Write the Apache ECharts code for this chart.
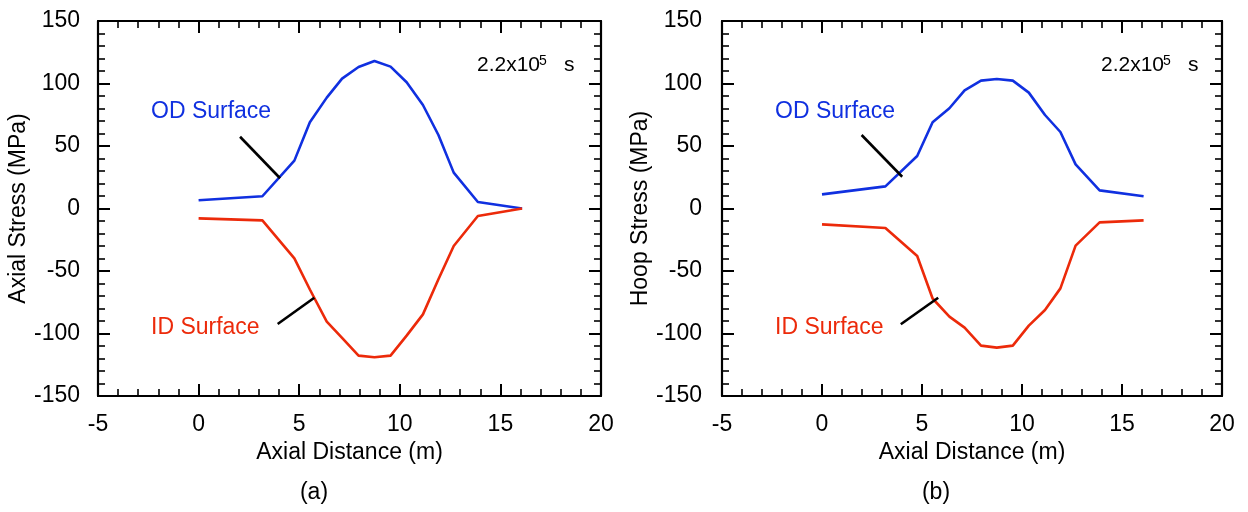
<!DOCTYPE html>
<html>
<head>
<meta charset="utf-8">
<script src="https://cdn.jsdelivr.net/npm/echarts@6/dist/echarts.min.js"></script>
<style>
html,body{margin:0;padding:0;background:#fff;}
#c{width:1248px;height:512px;}
</style>
</head>
<body>
<div id="c"></div>
<script>
// ---- data ----
const axialDistance = [0, 3.17, 4.76, 5.53, 6.37, 7.13, 7.95, 8.74, 9.54, 10.34, 11.15, 11.92, 12.68, 13.88, 16.08];
const axialOD = [6.6, 9.8, 38.3, 69, 88.7, 103.9, 113.2, 118, 113.5, 101, 82.8, 58.8, 28.7, 5.2, 0];
const axialID = [-7.9, -9.5, -39.9, -64.8, -90.5, -103.5, -117.7, -119, -117.7, -101.7, -84.7, -56.6, -30, -6, 0];
const hoopOD = [11.3, 17.7, 42, 69, 80.2, 94.5, 102.3, 103.6, 102.3, 92.7, 74.8, 61.2, 35.3, 14.5, 9.8];
const hoopID = [-12.7, -15.6, -38, -72, -86.5, -95.3, -109.7, -111.3, -109.7, -93.7, -81.2, -63.9, -29.7, -11.1, -9.5];
const leaderAxialOD = [[2.06, 57.4], [4.05, 24.2]];
const leaderAxialID = [[3.93, -92.4], [5.75, -71.4]];
const leaderHoopOD = [[1.98, 58.8], [4.01, 25.4]];
const leaderHoopID = [[3.94, -92.6], [5.81, -71.4]];
const xTicks = {min: -5, max: 20, interval: 5};
const yTicks = {min: -150, max: 150, interval: 50};
const xTitle = 'Axial Distance (m)';
const yTitles = ['Axial Stress (MPa)', 'Hoop Stress (MPa)'];
const panelLabels = ['(a)', '(b)'];
const curveLabels = ['OD Surface', 'ID Surface'];
const timeLabel = ['2.2x10', '5', 's'];

const FONT = '"Liberation Sans", Arial, Helvetica, sans-serif';
const FS = 23;
const BLUE = '#1030e0';
const RED = '#ec2a0a';

const zip = (xs, ys) => xs.map((x, i) => [x, ys[i]]);

const grids = [
  {left: 98, top: 21, width: 503, height: 375},
  {left: 722, top: 21, width: 500, height: 375}
];

function axisCommon(showLabel) {
  return {
    type: 'value',
    axisLine: {show: true, onZero: false, lineStyle: {color: '#000', width: 2.2}},
    axisTick: {show: true, inside: true, length: 12, lineStyle: {color: '#000', width: 2}},
    minorTick: {show: true, splitNumber: 5, length: 7, lineStyle: {color: '#000', width: 1.6}},
    splitLine: {show: false},
    axisLabel: {show: showLabel, color: '#000', fontSize: FS, fontFamily: FONT},
  };
}

const xAxes = [], yAxes = [];
grids.forEach((g, i) => {
  xAxes.push(Object.assign(axisCommon(true), {
    gridIndex: i, position: 'bottom', min: xTicks.min, max: xTicks.max, interval: xTicks.interval,
    name: xTitle, nameLocation: 'middle', nameGap: 42,
    nameTextStyle: {color: '#000', fontSize: FS, fontFamily: FONT},
    axisLabel: {show: true, color: '#000', fontSize: FS, fontFamily: FONT, margin: 17}
  }));
  xAxes.push(Object.assign(axisCommon(false), {
    gridIndex: i, position: 'top', min: xTicks.min, max: xTicks.max, interval: xTicks.interval
  }));
  yAxes.push(Object.assign(axisCommon(true), {
    gridIndex: i, position: 'left', min: yTicks.min, max: yTicks.max, interval: yTicks.interval,
    name: yTitles[i], nameLocation: 'middle', nameGap: i === 0 ? 67 : 65,
    nameTextStyle: {color: '#000', fontSize: FS, fontFamily: FONT},
    axisLabel: {show: true, color: '#000', fontSize: FS, fontFamily: FONT, margin: i === 0 ? 18 : 20}
  }));
  yAxes.push(Object.assign(axisCommon(false), {
    gridIndex: i, position: 'right', min: yTicks.min, max: yTicks.max, interval: yTicks.interval
  }));
});

function lineSeries(gi, data, color) {
  return {
    type: 'line', xAxisIndex: gi * 2, yAxisIndex: gi * 2, data: data,
    symbol: 'none', animation: false, silent: true,
    lineStyle: {color: color, width: 2.6}, z: 5
  };
}

const series = [
  lineSeries(0, zip(axialDistance, axialOD), BLUE),
  lineSeries(0, zip(axialDistance, axialID), RED),
  lineSeries(0, leaderAxialOD, '#000'),
  lineSeries(0, leaderAxialID, '#000'),
  lineSeries(1, zip(axialDistance, hoopOD), BLUE),
  lineSeries(1, zip(axialDistance, hoopID), RED),
  lineSeries(1, leaderHoopOD, '#000'),
  lineSeries(1, leaderHoopID, '#000')
];

function txt(x, y, s, opts) {
  return {
    type: 'text', x: x, y: y, silent: true,
    style: Object.assign({text: s, fill: '#000', font: FS + 'px ' + FONT, textAlign: 'left', textVerticalAlign: 'middle'}, opts || {})
  };
}

const graphics = [];
const offsets = [[151, 477], [775, 1101]];
offsets.forEach((o, i) => {
  graphics.push(txt(o[0], 112, curveLabels[0], {fill: BLUE}));
  graphics.push(txt(o[0], 328, curveLabels[1], {fill: RED}));
  graphics.push(txt(o[1], 65, timeLabel[0], {font: '21px ' + FONT}));
  graphics.push(txt(o[1] + 62, 61, timeLabel[1], {font: '14px ' + FONT}));
  graphics.push(txt(o[1] + 87, 65, timeLabel[2], {font: '21px ' + FONT}));
});
graphics.push(txt(314, 493, panelLabels[0], {textAlign: 'center'}));
graphics.push(txt(936, 493, panelLabels[1], {textAlign: 'center'}));

const chart = echarts.init(document.getElementById('c'), null, {renderer: 'canvas'});
chart.setOption({
  animation: false,
  backgroundColor: '#fff',
  grid: grids,
  xAxis: xAxes,
  yAxis: yAxes,
  series: series,
  graphic: graphics
});
</script>
</body>
</html>
